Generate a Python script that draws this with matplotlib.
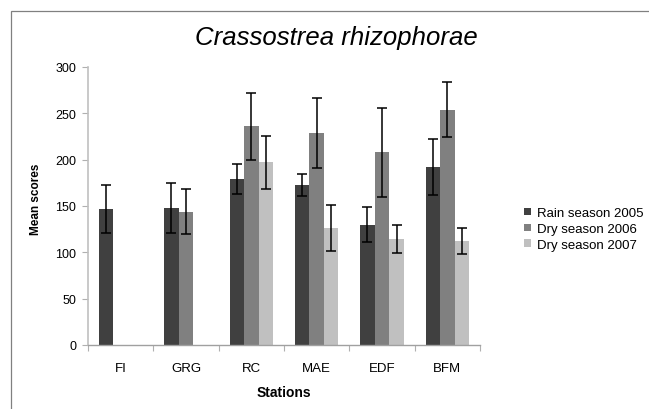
import numpy as np
import matplotlib
matplotlib.use("Agg")
import matplotlib.pyplot as plt
from matplotlib.patches import Rectangle, Patch

plt.rcParams['font.family'] = ['Liberation Sans', 'DejaVu Sans']

stations = ["FI", "GRG", "RC", "MAE", "EDF", "BFM"]
series_names = ["Rain season 2005", "Dry season 2006", "Dry season 2007"]
rain_2005 = [147, 148, 179, 173, 130, 192]
rain_2005_err = [26, 27, 16, 12, 19, 30]
dry_2006 = [np.nan, 144, 236, 229, 208, 254]
dry_2006_err = [np.nan, 24, 36, 38, 48, 30]
dry_2007 = [np.nan, np.nan, 197, 126, 114, 112]
dry_2007_err = [np.nan, np.nan, 29, 25, 15, 14]
colors = ["#404040", "#808080", "#c0c0c0"]

W, H = 649, 410
fig = plt.figure(figsize=(W / 100, H / 100), dpi=100)
ax = fig.add_axes([88 / W, 1 - 346 / H, 392 / W, 278 / H])

x = np.arange(len(stations))
bw = 1 / 4.5
values = [rain_2005, dry_2006, dry_2007]
errors = [rain_2005_err, dry_2006_err, dry_2007_err]
handles = []
for i, (v, e, c, name) in enumerate(zip(values, errors, colors, series_names)):
    ax.bar(x + (i - 1) * bw, v, width=bw, color=c, label=name, zorder=2)
    ax.errorbar(x + (i - 1) * bw, v, yerr=e, fmt='none', ecolor='black',
                elinewidth=1.1, capsize=3.5, capthick=1.1, zorder=3)
    handles.append(Patch(facecolor=c, edgecolor='none', label=name))

ax.set_xlim(-0.5, len(stations) - 0.5)
ax.set_ylim(0, 300)
ax.set_yticks(np.arange(0, 301, 50))
ax.set_xticks(x)
ax.set_xticklabels(stations)
ax.set_xticks(np.arange(-0.5, len(stations), 1), minor=True)
ax.tick_params(axis='x', which='major', length=0, pad=12, labelsize=9.5, colors='#000000')
ax.tick_params(axis='x', which='minor', length=4, width=0.8, color='#b0b0b0', direction='out')
ax.tick_params(axis='y', length=4, width=0.8, color='#b0b0b0', pad=4.5, labelsize=9)

for s in ['top', 'right']:
    ax.spines[s].set_visible(False)
ax.spines['left'].set_color('#c0c0c0')
ax.spines['left'].set_linewidth(1.2)
ax.spines['bottom'].set_color('#a0a0a0')
ax.spines['bottom'].set_linewidth(1.0)

ax.set_xlabel("Stations", fontsize=10, fontweight='bold')
ax.xaxis.set_label_coords(0.5, -(386 - 346) / 278)
ax.set_ylabel("Mean scores", fontsize=8.5, fontweight='bold')
ax.yaxis.set_label_coords((42 - 88) / 392, (346 - 199) / 278)

fig.text(336 / W, 1 - 45 / H, "Crassostrea rhizophorae", ha='center', va='baseline',
         fontsize=18.5, style='italic')

fig.legend(handles=handles, loc='upper left', bbox_to_anchor=(524 / W, 1 - 208 / H),
           frameon=False, fontsize=9.5, handlelength=0.5, handleheight=0.5,
           handletextpad=0.45, labelspacing=0.3, borderpad=0, borderaxespad=0)

fig.patches.append(Rectangle((10.5 / W, -0.2), 1.5, 0.2 + 1 - 11.5 / H, transform=fig.transFigure,
                             fill=False, edgecolor='#808080', linewidth=0.9))

fig.savefig("out.png", dpi=100)
